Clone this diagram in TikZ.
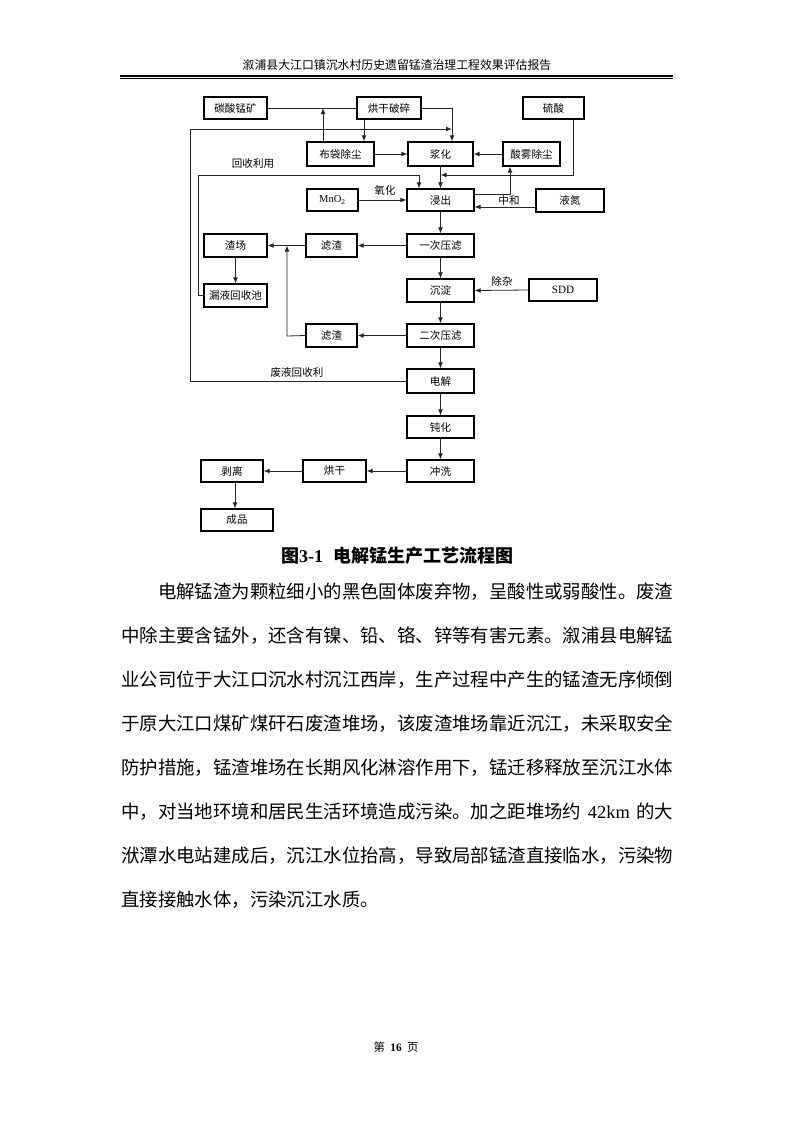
\documentclass[tikz,border=0pt]{standalone}
\usepackage{fontspec}
\setmainfont{Liberation Serif}
\newfontfamily\cjk{Noto Sans CJK SC}
\usetikzlibrary{arrows.meta}
\begin{document}
\begin{tikzpicture}[x=0.75pt,y=-0.75pt,
  box/.style={draw=black, line width=0.85pt, inner sep=0pt, font=\cjk\fontsize{7.9}{9}\selectfont},
  con/.style={draw=black!85, line width=0.6pt},
  arr/.style={con, -{Latex[length=4.5pt,width=3.6pt]}},
  lbl/.style={font=\cjk\fontsize{7.9}{9}\selectfont, inner sep=0pt},
  body/.style={font=\cjk\fontsize{13.8}{16}\selectfont, inner sep=0pt, anchor=west}]
\useasboundingbox (0,0) rectangle (793,1122);

% header
\node[inner sep=0pt, font=\cjk\fontsize{8.9}{10}\selectfont] (hdr) at (397,65) {溆浦县大江口镇沉水村历史遗留锰渣治理工程效果评估报告};
\coordinate (hl1) at (120,75.7); \coordinate (hr1) at (673,75.7);
\coordinate (hl2) at (120,78.6); \coordinate (hr2) at (673,78.6);
\draw[line width=1.6pt] (hl1) -- (hr1);
\draw[line width=0.6pt] (hl2) -- (hr2);

% boxes
\node[box,minimum width=47.25pt,minimum height=16.5pt] (tsm) at (235.5,108) {碳酸锰矿};
\node[box,minimum width=48pt,minimum height=16.5pt] (hg) at (389,108) {烘干破碎};
\node[box,minimum width=45.75pt,minimum height=16.5pt] (ls) at (553.5,108) {硫酸};
\node[box,minimum width=50.25pt,minimum height=18pt] (bd) at (340.5,154) {布袋除尘};
\node[box,minimum width=48.75pt,minimum height=18pt] (jh) at (440.5,154) {浆化};
\node[box,minimum width=42.75pt,minimum height=18pt] (sw) at (531.5,154) {酸雾除尘};
\node[box,minimum width=50.25pt,minimum height=16.5pt] (jc) at (440.5,200) {浸出};
\node[box,minimum width=38.25pt,minimum height=16.5pt,font=\fontsize{7.9}{9}\selectfont] (mno) at (332.5,200) {MnO\textsubscript{2}};
\node[box,minimum width=51pt,minimum height=17.25pt] (ld) at (570,200.5) {液氮};
\node[box,minimum width=50.25pt,minimum height=17.25pt] (yc) at (440.5,245.5) {一次压滤};
\node[box,minimum width=38.25pt,minimum height=17.25pt] (lz1) at (331.5,245.5) {滤渣};
\node[box,minimum width=47.25pt,minimum height=17.25pt] (zc) at (235.5,245.5) {渣场};
\node[box,minimum width=47.25pt,minimum height=17.25pt] (ly) at (235.5,295.5) {漏液回收池};
\node[box,minimum width=50.25pt,minimum height=17.25pt] (cd) at (440.5,290.5) {沉淀};
\node[box,minimum width=51pt,minimum height=16.5pt,font=\fontsize{8.4}{9}\selectfont] (sdd) at (563,290) {SDD};
\node[box,minimum width=50.25pt,minimum height=17.25pt] (ec) at (440.5,335.5) {二次压滤};
\node[box,minimum width=38.25pt,minimum height=17.25pt] (lz2) at (331.5,335.5) {滤渣};
\node[box,minimum width=50.25pt,minimum height=18pt] (dj) at (440.5,381) {电解};
\node[box,minimum width=50.25pt,minimum height=16.5pt] (dh) at (440.5,427) {钝化};
\node[box,minimum width=50.25pt,minimum height=16.5pt] (cx) at (440.5,471) {冲洗};
\node[box,minimum width=47.25pt,minimum height=16.5pt] (hg2) at (334.5,471) {烘干};
\node[box,minimum width=46.5pt,minimum height=16.5pt] (bl) at (232,471) {剥离};
\node[box,minimum width=54pt,minimum height=16.5pt] (cp) at (237,520) {成品};

% labels
\node[lbl] (l1) at (385,190) {氧化};
\node[lbl] (l2) at (509,200.5) {中和};
\node[lbl] (l3) at (253,164) {回收利用};
\node[lbl] (l4) at (502,281) {除杂};
\node[lbl] (l5) at (297,372) {废液回收利};

% bend coordinates
\coordinate (p1) at (323,108);
\coordinate (c364) at (364,0);
\coordinate (c452) at (452,108);
\coordinate (o2) at (190,129);
\coordinate (o3) at (452,129);
\coordinate (i1) at (198,175);
\coordinate (i2) at (419,175);
\coordinate (s1) at (573,175);
\coordinate (n1) at (510,194);
\coordinate (n2) at (536,207);
\coordinate (r1) at (287,336);
\coordinate (b1) at (235,0);

% connectors
\draw[con] (tsm.east) -- (hg.west);
\draw[arr] (bd.north -| p1) -- (p1);
\draw[arr] (hg.south -| c364) -- (bd.north -| c364);
\draw[arr] (hg.east) -- (c452) -- (jh.north -| c452);
\draw[arr] (dj.west) -- (dj.west -| o2) -- (o2) -- (o3);
\draw[arr] (ly.west) -- (ly.west -| i1) -- (i1) -- (i2) -- (jc.north -| i2);
\draw[arr] (ls.south -| s1) -- (s1) -- (s1 -| jh.south);
\draw[arr] (jh.south) -- (jc.north);
\draw[arr] (jc.east |- n1) -- (n1) -- (sw.south -| n1);
\draw[arr] (sw.west) -- (jh.east);
\draw[arr] (bd.east) -- (jh.west);
\draw[arr] (ld.west |- n2) -- (jc.east |- n2);
\draw[arr] (mno.east) -- (jc.west);
\draw[arr] (jc.south) -- (yc.north);
\draw[arr] (yc.south) -- (cd.north);
\draw[arr] (cd.south) -- (ec.north);
\draw[arr] (ec.south) -- (dj.north);
\draw[arr] (dj.south) -- (dh.north);
\draw[arr] (dh.south) -- (cx.north);
\draw[arr] (yc.west) -- (lz1.east);
\draw[arr] (lz1.west) -- (zc.east);
\draw[arr] (lz2.west) -- (r1) -- (r1 |- lz1.west);
\draw[arr] (zc.south) -- (ly.north);
\draw[arr] (sdd.west) -- (cd.east);
\draw[arr] (ec.west) -- (lz2.east);
\draw[arr] (cx.west) -- (hg2.east);
\draw[arr] (hg2.west) -- (bl.east);
\draw[arr] (bl.south -| b1) -- (cp.north -| b1);

% caption
\node[inner sep=0pt, font=\fontsize{13.5}{15}\selectfont\bfseries] (cap) at (397.5,556) {{\cjk 图}3-1\hspace{0.6em}{\cjk 电解锰生产工艺流程图}};

% body text
\node[body] (t1) at (157.8,592) {电解锰渣为颗粒细小的黑色固体废弃物，呈酸性或弱酸性。废渣};
\node[body] (t2) at (121,636) {中除主要含锰外，还含有镍、铅、铬、锌等有害元素。溆浦县电解锰};
\node[body] (t3) at (121,680) {业公司位于大江口沉水村沉江西岸，生产过程中产生的锰渣无序倾倒};
\node[body] (t4) at (121,724) {于原大江口煤矿煤矸石废渣堆场，该废渣堆场靠近沉江，未采取安全};
\node[body] (t5) at (121,768) {防护措施，锰渣堆场在长期风化淋溶作用下，锰迁移释放至沉江水体};
\node[body] (t6) at (121,812) {\makebox[414pt][s]{中，对当地环境和居民生活环境造成污染。加之距堆场约\hfil{\rmfamily 42km}\hfil 的大}};
\node[body] (t7) at (121,856) {洑潭水电站建成后，沉江水位抬高，导致局部锰渣直接临水，污染物};
\node[body] (t8) at (121,900) {直接接触水体，污染沉江水质。};

% footer
\node[inner sep=0pt, font=\fontsize{8.5}{9}\selectfont] (ftr) at (396,1047) {{\cjk 第}\hspace{4pt}\textbf{16}\hspace{4pt}{\cjk 页}};
\end{tikzpicture}
\end{document}
